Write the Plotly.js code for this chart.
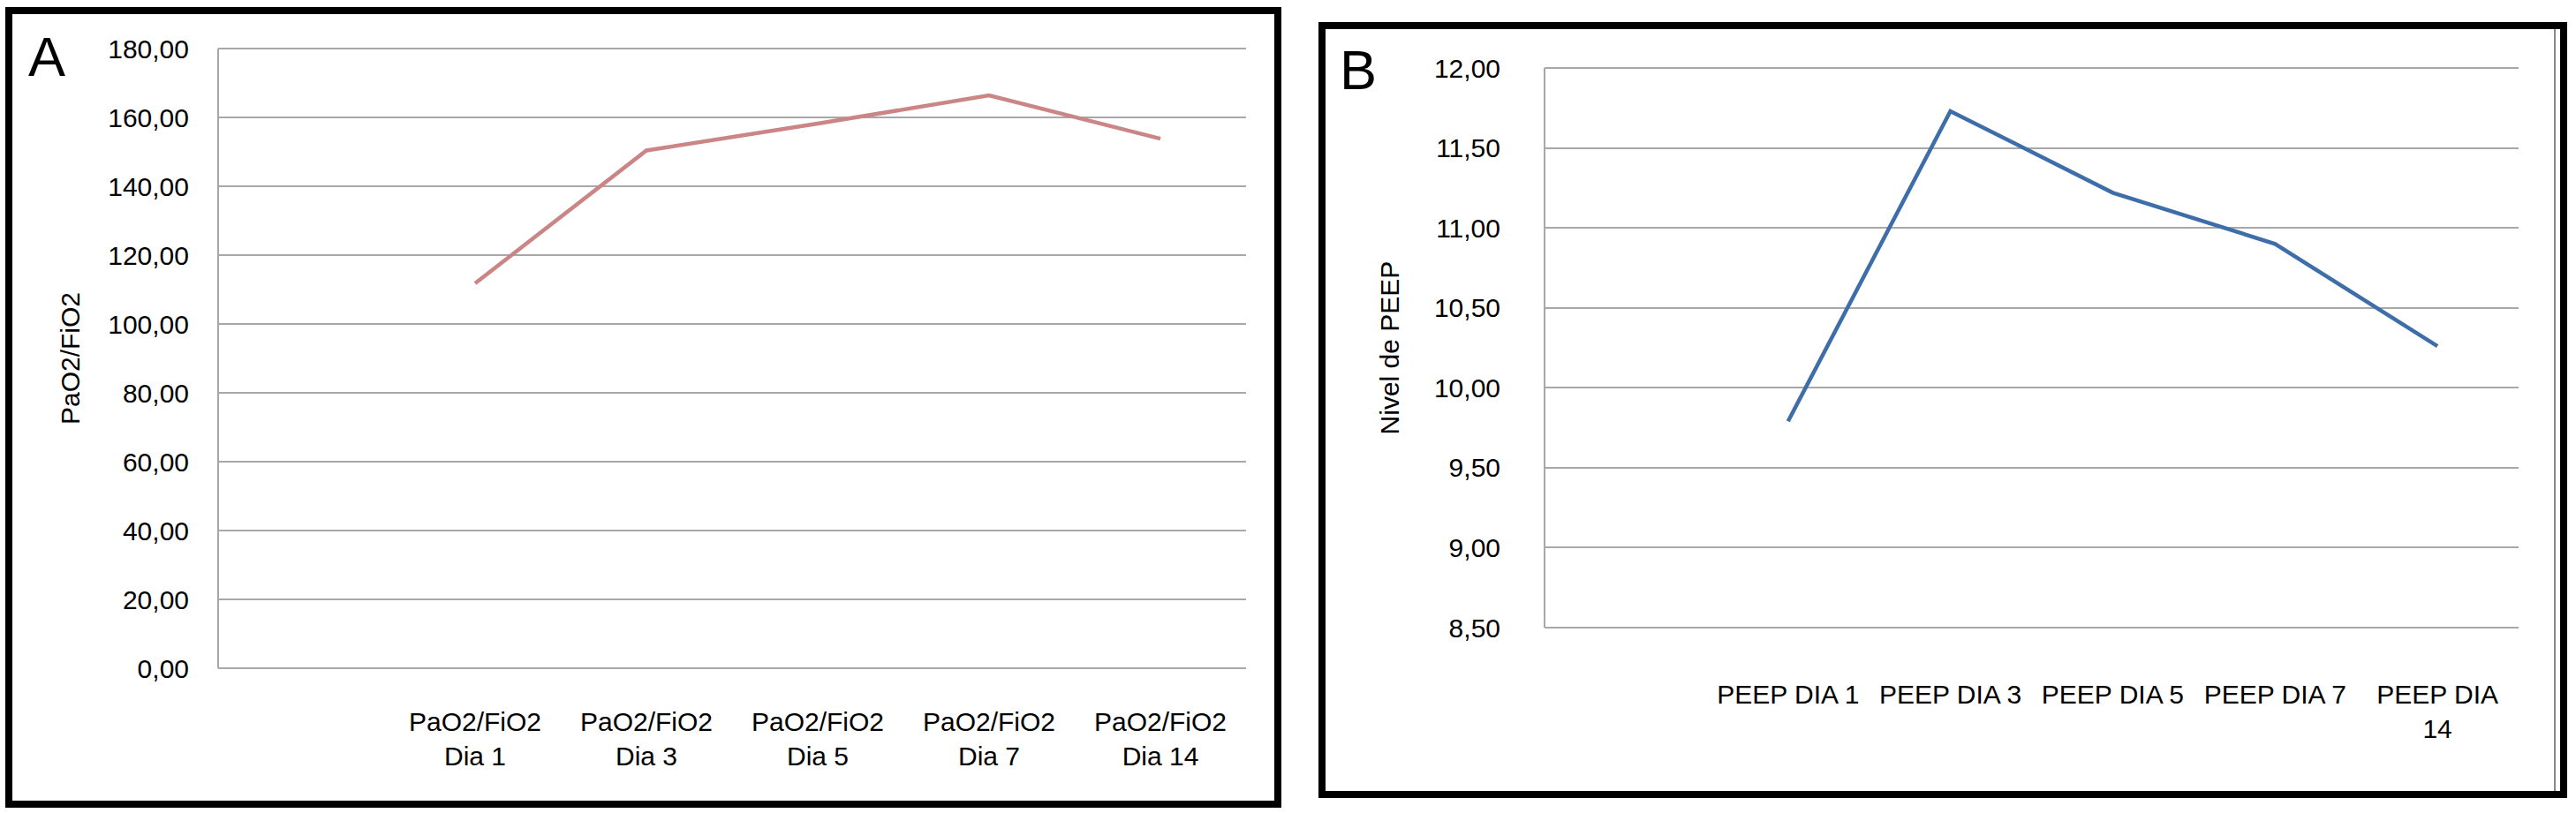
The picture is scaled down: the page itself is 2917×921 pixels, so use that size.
<!DOCTYPE html>
<html>
<head>
<meta charset="utf-8">
<script src="https://cdn.plot.ly/plotly-3.0.1.min.js"></script>
<style>html,body{margin:0;padding:0;background:#fff;}#chart{width:2917px;height:921px;}</style>
</head>
<body>
<div id="chart"></div>
<script>
// ---- Data ----
var categoriesA = ['PaO2/FiO2<br>Dia 1', 'PaO2/FiO2<br>Dia 3', 'PaO2/FiO2<br>Dia 5', 'PaO2/FiO2<br>Dia 7', 'PaO2/FiO2<br>Dia 14'];
var valuesA = [111.8, 150.4, 158.2, 166.4, 153.8];
var categoriesB = ['PEEP DIA 1', 'PEEP DIA 3', 'PEEP DIA 5', 'PEEP DIA 7', 'PEEP DIA<br>14'];
var valuesB = [9.79, 11.73, 11.22, 10.90, 10.26];
var titleA = 'PaO2/FiO2';
var titleB = 'Nivel de PEEP';
var panelA = 'A';
var panelB = 'B';

var W = 2917, H = 921;
function px(x) { return x / W; }
function py(y) { return 1 - y / H; }

var FONT = 'Liberation Sans, Arial, Helvetica, sans-serif';
var GRID = '#a8a8a8';

// plot areas (pixel) – padded by PAD px so that edge gridlines are kept
var PAD = 3;
var A_top = 55, A_bot = 757, A_min = 0, A_max = 180;
var B_top = 77, B_bot = 711, B_min = 8.5, B_max = 12;
var aPer = (A_max - A_min) / (A_bot - A_top);
var bPer = (B_max - B_min) / (B_bot - B_top);

var traces = [
  { x: categoriesA, y: valuesA, type: 'scatter', mode: 'lines', xaxis: 'x', yaxis: 'y',
    line: { color: '#cb8585', width: 4.5 }, hoverinfo: 'skip' },
  { x: categoriesB, y: valuesB, type: 'scatter', mode: 'lines', xaxis: 'x2', yaxis: 'y2',
    line: { color: '#3e6ea9', width: 4.5 }, hoverinfo: 'skip' }
];

var tickFont = { family: FONT, size: 30, color: '#000' };

var layout = {
  width: W, height: H,
  margin: { l: 0, r: 0, t: 0, b: 0 },
  paper_bgcolor: '#fff', plot_bgcolor: 'rgba(0,0,0,0)',
  showlegend: false,
  separators: ',.',
  font: { family: FONT, color: '#000' },
  xaxis: {
    domain: [px(247), px(1411)], anchor: 'y', type: 'category', range: [-1.5, 4.5],
    showgrid: false, showline: false, zeroline: false, ticks: '',
    tickfont: tickFont, ticklabelstandoff: 40 - PAD, fixedrange: true
  },
  yaxis: {
    domain: [py(A_bot + PAD), py(A_top - PAD)], anchor: 'x',
    range: [A_min - PAD * aPer, A_max + PAD * aPer], dtick: 20, tick0: 0,
    tickformat: '.2f', showgrid: true, gridcolor: GRID, gridwidth: 2,
    showline: false,
    zeroline: true, zerolinecolor: GRID, zerolinewidth: 2,
    ticks: '', tickfont: tickFont, ticklabelstandoff: 32,
    title: { text: titleA, font: { family: FONT, size: 30, color: '#000' }, standoff: 22 },
    automargin: false, fixedrange: true
  },
  xaxis2: {
    domain: [px(1749), px(2852)], anchor: 'y2', type: 'category', range: [-1.5, 4.5],
    showgrid: false, showline: false, zeroline: false, ticks: '',
    tickfont: tickFont, ticklabelstandoff: 55 - PAD, fixedrange: true
  },
  yaxis2: {
    domain: [py(B_bot + PAD), py(B_top - PAD)], anchor: 'x2',
    range: [B_min - PAD * bPer, B_max + PAD * bPer], dtick: 0.5, tick0: 8.5,
    tickformat: '.2f', showgrid: true, gridcolor: GRID, gridwidth: 2,
    showline: false, zeroline: false,
    ticks: '', tickfont: tickFont, ticklabelstandoff: 49,
    title: { text: titleB, font: { family: FONT, size: 30, color: '#000' }, standoff: 30 },
    automargin: false, fixedrange: true
  },
  shapes: [
    // vertical value-axis lines, spanning the value range
    { type: 'line', xref: 'x domain', yref: 'y', x0: 0, x1: 0, y0: A_min, y1: A_max,
      line: { color: GRID, width: 2 } },
    { type: 'line', xref: 'x2 domain', yref: 'y2', x0: 0, x1: 0, y0: B_min, y1: B_max,
      line: { color: GRID, width: 2 } },
    // panel frames
    { type: 'rect', xref: 'paper', yref: 'paper', x0: px(10), x1: px(1447), y0: py(911), y1: py(12),
      line: { color: '#000', width: 8 }, fillcolor: 'rgba(0,0,0,0)', layer: 'above' },
    { type: 'rect', xref: 'paper', yref: 'paper', x0: px(1497), x1: px(2903), y0: py(900), y1: py(29),
      line: { color: '#000', width: 8 }, fillcolor: 'rgba(0,0,0,0)', layer: 'above' },
    { type: 'line', xref: 'paper', yref: 'paper', x0: px(2893), x1: px(2893), y0: py(896), y1: py(33),
      line: { color: '#8a8a8a', width: 2 }, layer: 'above' }
  ],
  annotations: [
    { text: panelA, xref: 'paper', yref: 'paper', x: px(30), y: py(64), xanchor: 'left', yanchor: 'middle',
      showarrow: false, font: { family: FONT, size: 63, color: '#000' } },
    { text: panelB, xref: 'paper', yref: 'paper', x: px(1515), y: py(79), xanchor: 'left', yanchor: 'middle',
      showarrow: false, font: { family: FONT, size: 63, color: '#000' } }
  ]
};

Plotly.newPlot('chart', traces, layout, { displayModeBar: false, staticPlot: true });
</script>
</body>
</html>
